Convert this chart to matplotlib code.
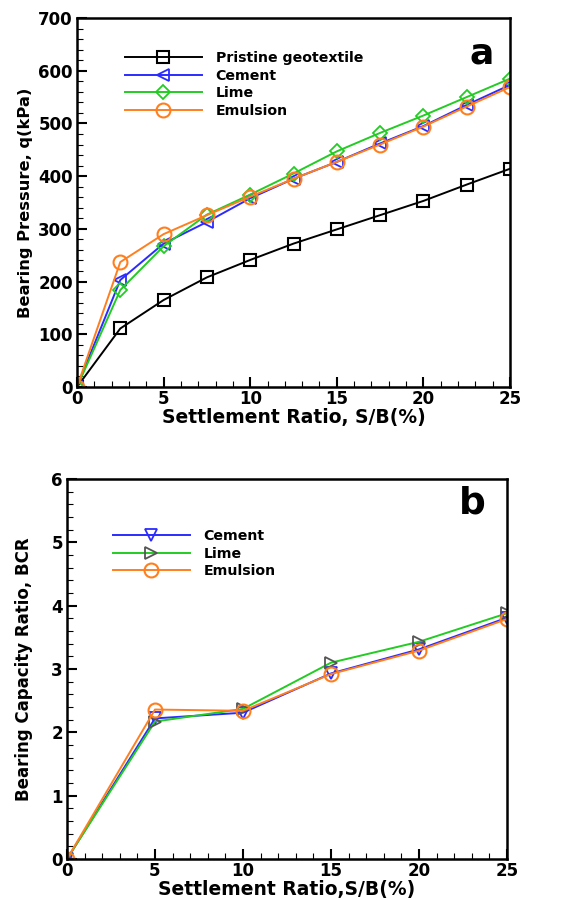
import matplotlib
matplotlib.use("Agg")
import matplotlib.pyplot as plt
from matplotlib.ticker import MultipleLocator

plt.rcParams['font.family'] = ['DejaVu Sans']
plt.rcParams['font.weight'] = 'bold'

# Panel a data
settle_a = [0, 2.5, 5, 7.5, 10, 12.5, 15, 17.5, 20, 22.5, 25]
pristine = [0, 111, 165, 208, 241, 272, 299, 326, 353, 384, 414]
cement_a = [0, 203, 272, 313, 358, 395, 427, 462, 495, 535, 573]
lime_a = [0, 184, 267, 327, 365, 405, 447, 482, 515, 550, 585]
emulsion_a = [0, 237, 290, 326, 361, 395, 427, 460, 494, 532, 569]

# Panel b data
settle_b = [0, 5, 10, 15, 20, 25]
cement_b = [0, 2.22, 2.31, 2.93, 3.31, 3.81]
lime_b = [0, 2.17, 2.37, 3.10, 3.43, 3.88]
emulsion_b = [0, 2.36, 2.34, 2.92, 3.29, 3.79]

BLUE = '#2b2bff'
GREEN = '#22cc22'
ORANGE = '#ff7f1e'

fig = plt.figure(figsize=(5.76, 9.0), dpi=100)
W, H = 576, 900
def rect(l, t, r, b):
    return [l / W, 1 - b / H, (r - l) / W, (b - t) / H]

ax1 = fig.add_axes(rect(77, 18, 510, 387))
ax2 = fig.add_axes(rect(67, 479, 507, 859))

lw = 1.4
ax1.plot(settle_a, pristine, color='black', lw=lw, marker='s', ms=8, mfc='none', mec='black', mew=1.5, label='Pristine geotextile')
ax1.plot(settle_a, cement_a, color=BLUE, lw=lw, marker='<', ms=8.5, mfc='none', mec=BLUE, mew=1.3, label='Cement')
ax1.plot(settle_a, lime_a, color=GREEN, lw=lw, marker='D', ms=7.5, mfc='none', mec=GREEN, mew=1.3, label='Lime')
ax1.plot(settle_a, emulsion_a, color=ORANGE, lw=lw, marker='o', ms=10, mfc='none', mec=ORANGE, mew=1.5, label='Emulsion')

ax2.plot(settle_b, cement_b, color=BLUE, lw=lw, marker='v', ms=8.5, mfc='none', mec=BLUE, mew=1.3, label='Cement')
ax2.plot(settle_b, lime_b, color=GREEN, lw=lw, marker='>', ms=8.5, mfc='none', mec='#555555', mew=1.3, label='Lime')
ax2.plot(settle_b, emulsion_b, color=ORANGE, lw=lw, marker='o', ms=10, mfc='none', mec=ORANGE, mew=1.5, label='Emulsion')

ax1.set_ylim(0, 700)
ax1.yaxis.set_major_locator(MultipleLocator(100))
ax1.yaxis.set_minor_locator(MultipleLocator(20))
ax2.set_ylim(0, 6)
ax2.yaxis.set_major_locator(MultipleLocator(1))
ax2.yaxis.set_minor_locator(MultipleLocator(0.2))

for ax in (ax1, ax2):
    ax.set_xlim(0, 25)
    ax.xaxis.set_major_locator(MultipleLocator(5))
    ax.xaxis.set_minor_locator(MultipleLocator(1))
    for s in ax.spines.values():
        s.set_linewidth(1.8)
    ax.tick_params(which='major', direction='in', length=7, width=1.5, labelsize=12, top=False, right=False, pad=3)
    ax.tick_params(which='minor', direction='in', length=4, width=0.8, top=False, right=False)
    for lab in ax.get_xticklabels() + ax.get_yticklabels():
        lab.set_fontweight('bold')
    ax.tick_params(axis='x', which='major', pad=2)

ax1.set_xlabel('Settlement Ratio, S/B(%)', fontsize=13.5, fontweight='bold', labelpad=0)
ax1.set_ylabel('Bearing Pressure, q(kPa)', fontsize=11.7, fontweight='bold', labelpad=4)
ax2.set_xlabel('Settlement Ratio,S/B(%)', fontsize=13.5, fontweight='bold', labelpad=0)
ax2.set_ylabel('Bearing Capacity Ratio, BCR', fontsize=12, fontweight='bold', labelpad=13)

ax1.text(0.935, 0.905, 'a', transform=ax1.transAxes, fontsize=26, fontweight='bold', ha='center', va='center')
ax2.text(0.92, 0.935, 'b', transform=ax2.transAxes, fontsize=27, fontweight='bold', ha='center', va='center')

leg_kw = dict(frameon=False, handlelength=5.4, handletextpad=1.0, labelspacing=0.25,
              prop={'weight': 'bold', 'size': 10.2}, borderaxespad=0, borderpad=0)
ax1.legend(loc='upper left', bbox_to_anchor=((125 - 77) / 433, 1 - (51 - 18) / 369), **leg_kw)
ax2.legend(loc='upper left', bbox_to_anchor=((113 - 67) / 440, 1 - (529 - 479) / 380), **leg_kw)

fig.savefig('out.png', dpi=100)
